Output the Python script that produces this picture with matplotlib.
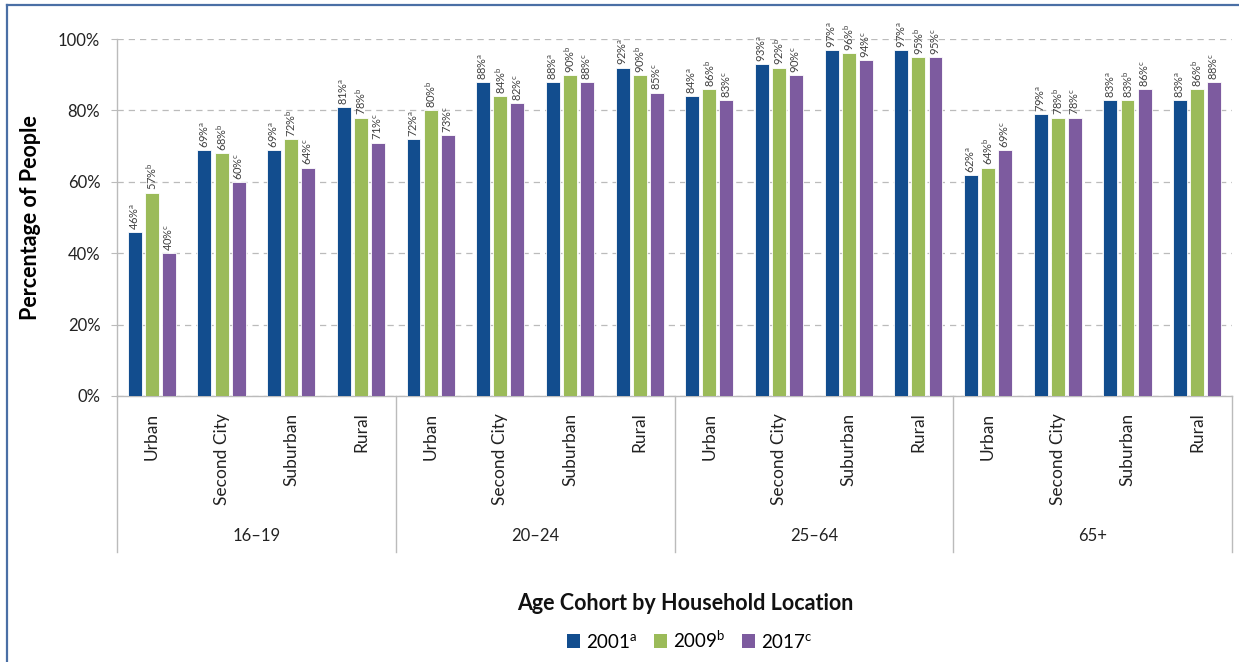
import matplotlib
matplotlib.use("Agg")
import matplotlib.pyplot as plt
import matplotlib.transforms as mtransforms
from matplotlib.patches import Patch
from matplotlib.lines import Line2D
import numpy as np

plt.rcParams['font.family'] = ['Lato', 'DejaVu Sans']
plt.rcParams['mathtext.fontset'] = 'custom'
plt.rcParams['mathtext.rm'] = 'Lato'
plt.rcParams['mathtext.it'] = 'Lato'

groups = ["16\u201319", "20\u201324", "25\u201364", "65+"]
locations = ["Urban", "Second City", "Suburban", "Rural"]
series_names = ["2001", "2009", "2017"]
series_sup = ["a", "b", "c"]
colors = ["#124D8E", "#9BBB59", "#7D5B9F"]

v2001 = [46, 69, 69, 81, 72, 88, 88, 92, 84, 93, 97, 97, 62, 79, 83, 83]
v2009 = [57, 68, 72, 78, 80, 84, 90, 90, 86, 92, 96, 95, 64, 78, 83, 86]
v2017 = [40, 60, 64, 71, 73, 82, 88, 85, 83, 90, 94, 95, 69, 78, 86, 88]
yticks = [0, 20, 40, 60, 80, 100]

values = [v2001, v2009, v2017]
W, H = 1239, 662
fig = plt.figure(figsize=(W / 100, H / 100), dpi=100)
ax = fig.add_axes([117 / W, 1 - 396 / H, (1232 - 117) / W, (396 - 39) / H])

n = len(groups) * len(locations)
x = np.arange(n)
bw = 0.2
offs = [-0.245, 0, 0.245]
for s in range(3):
    ax.bar(x + offs[s], values[s], width=bw, color=colors[s],
           edgecolor="white", linewidth=0.6, zorder=3)
    for xi, v in zip(x, values[s]):
        ax.text(xi + offs[s], v + 0.6, f"{v}%$^{{\\mathrm{{{series_sup[s]}}}}}$",
                rotation=90, ha="center", va="bottom", fontsize=8,
                color="#404040", zorder=4)

ax.set_xlim(-0.5, n - 0.5)
ax.set_ylim(0, 100)
ax.set_yticks(yticks)
ax.set_yticklabels([f"{t}%" for t in yticks], fontsize=12, color="#222222")
ax.yaxis.grid(True, linestyle=(0, (5, 4)), color="#BBBBBB", linewidth=0.9, zorder=0)
ax.tick_params(axis="y", length=4, color="#BBBBBB", pad=8)
ax.set_xticks(x)
ax.set_xticklabels(locations * len(groups), rotation=90, fontsize=12.5, color="#222222", va="top")
ax.tick_params(axis="x", length=0, pad=12)
for sp in ["top", "right"]:
    ax.spines[sp].set_visible(False)
for sp in ["left", "bottom"]:
    ax.spines[sp].set_color("#BBBBBB")
    ax.spines[sp].set_linewidth(1.0)

ax.set_ylabel("Percentage of People", fontsize=15.5, fontweight="bold", labelpad=12)

trans = mtransforms.blended_transform_factory(ax.transData, ax.transAxes)
ybot = -(552 - 396) / 357
for b in np.arange(0, n + 1, len(locations)) - 0.5:
    ax.add_line(Line2D([b, b], [0, ybot], transform=trans, color="#BBBBBB",
                       linewidth=1.0, clip_on=False))
for gi, g in enumerate(groups):
    cx = gi * len(locations) + (len(locations) - 1) / 2
    ax.text(cx, -(536 - 396) / 357, g, transform=trans, ha="center", va="center",
            fontsize=12, color="#222222")

fig.text(685 / W, 1 - 603 / H, "Age Cohort by Household Location", ha="center", va="center",
         fontsize=15.5, fontweight="bold", color="#111111")

handles = [Patch(facecolor=c, edgecolor="none") for c in colors]
labels = [f"{nm}$^{{\\mathrm{{{sp}}}}}$" for nm, sp in zip(series_names, series_sup)]
fig.legend(handles, labels, loc="center", bbox_to_anchor=(690 / W, 1 - 640 / H), ncol=3,
           frameon=False, fontsize=13.5, handlelength=0.7, handleheight=0.7,
           handletextpad=0.3, columnspacing=0.9)

# outer frame
fig.add_artist(Line2D([7 / W, 1], [1 - 5 / H, 1 - 5 / H], transform=fig.transFigure,
                      color="#4A6FA5", linewidth=1.6))
fig.add_artist(Line2D([7 / W, 7 / W], [0, 1 - 5 / H], transform=fig.transFigure,
                      color="#4A6FA5", linewidth=1.6))

fig.savefig("out.png", dpi=100)
